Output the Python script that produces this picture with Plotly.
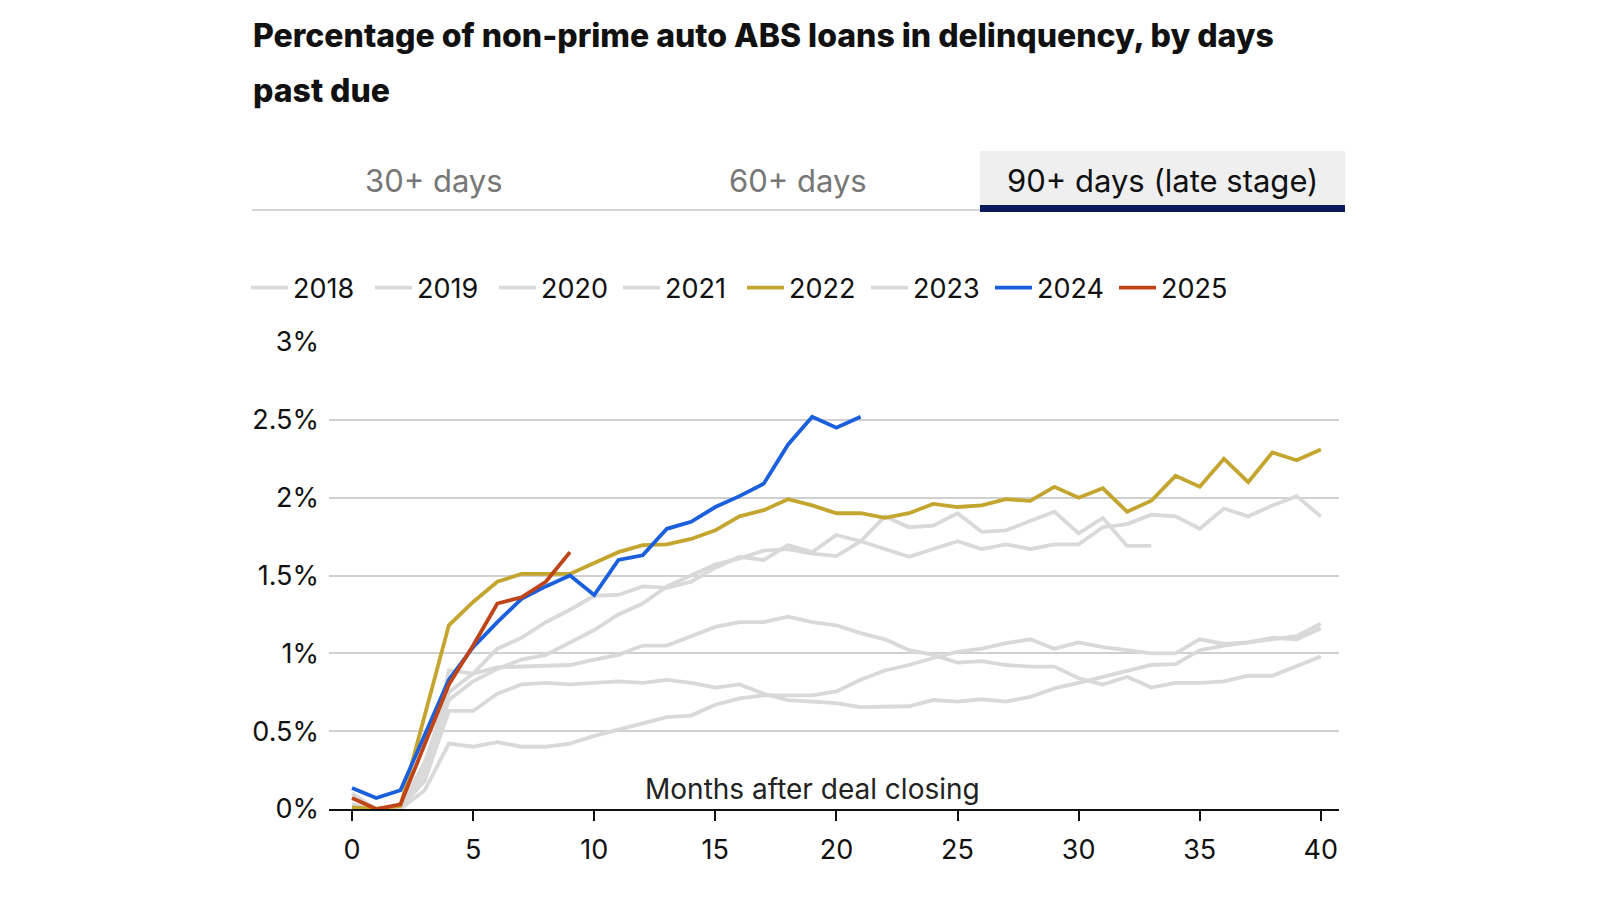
import plotly.graph_objects as go

# ---------------- data ----------------
months = list(range(41))
years = ["2018", "2019", "2020", "2021", "2022", "2023", "2024", "2025"]

y2018 = [0.02, 0.0, 0.01, 0.30, 0.75, 0.87, 1.03, 1.10, 1.20, 1.28,
         1.37, 1.375, 1.43, 1.42, 1.46, 1.55, 1.62, 1.60, 1.695, 1.65,
         1.76, 1.72, 1.67, 1.62, 1.67, 1.72, 1.67, 1.70, 1.67, 1.70,
         1.70, 1.81, 1.83, 1.89, 1.88, 1.80, 1.93, 1.88, 1.95, 2.01, 1.88]
y2019 = [0.10, 0.0, 0.01, 0.20, 0.89, 0.87, 0.91, 0.915, 0.915, 0.925,
         0.96, 0.99, 1.05, 1.05, 1.11, 1.17, 1.20, 1.20, 1.235, 1.20,
         1.18, 1.13, 1.09, 1.02, 0.99, 0.94, 0.95, 0.925, 0.915, 0.915,
         0.84, 0.80, 0.85, 0.78, 0.81, 0.81, 0.82, 0.856, 0.856, 0.915, 0.98]
y2020 = [0.03, 0.0, 0.01, 0.18, 0.63, 0.63, 0.74, 0.80, 0.81, 0.80,
         0.81, 0.82, 0.81, 0.83, 0.81, 0.78, 0.80, 0.74, 0.70, 0.69,
         0.68, 0.655, 0.66, 0.66, 0.70, 0.69, 0.705, 0.69, 0.72, 0.775,
         0.81, 0.85, 0.89, 0.925, 0.93, 1.02, 1.05, 1.07, 1.09, 1.11, 1.19]
y2021 = [0.0, 0.0, 0.0, 0.12, 0.42, 0.40, 0.43, 0.40, 0.40, 0.42,
         0.47, 0.51, 0.55, 0.59, 0.60, 0.67, 0.71, 0.73, 0.73, 0.73,
         0.755, 0.83, 0.89, 0.925, 0.97, 1.01, 1.03, 1.065, 1.09, 1.03,
         1.07, 1.04, 1.02, 1.00, 1.00, 1.09, 1.06, 1.07, 1.10, 1.09, 1.16]
y2022 = [0.01, 0.0, 0.02, 0.60, 1.18, 1.33, 1.46, 1.51, 1.51, 1.51,
         1.58, 1.65, 1.695, 1.70, 1.735, 1.79, 1.88, 1.92, 1.99, 1.95,
         1.90, 1.90, 1.87, 1.90, 1.96, 1.94, 1.95, 1.99, 1.98, 2.07,
         2.00, 2.06, 1.91, 1.98, 2.14, 2.07, 2.25, 2.10, 2.29, 2.24, 2.31]
y2023 = [0.02, 0.0, 0.01, 0.25, 0.70, 0.82, 0.90, 0.96, 0.99, 1.07,
         1.15, 1.25, 1.32, 1.43, 1.50, 1.57, 1.61, 1.66, 1.67, 1.64,
         1.625, 1.72, 1.88, 1.81, 1.82, 1.90, 1.78, 1.79, 1.85, 1.91,
         1.77, 1.87, 1.69, 1.69]
y2024 = [0.135, 0.07, 0.12, 0.47, 0.83, 1.04, 1.20, 1.35, 1.43, 1.50,
         1.375, 1.60, 1.63, 1.80, 1.845, 1.94, 2.01, 2.09, 2.34, 2.52,
         2.45, 2.52]
y2025 = [0.07, 0.0, 0.03, 0.42, 0.80, 1.05, 1.32, 1.36, 1.46, 1.65]

series = {"2018": y2018, "2019": y2019, "2020": y2020, "2021": y2021,
          "2022": y2022, "2023": y2023, "2024": y2024, "2025": y2025}

tabs = ["30+ days", "60+ days", "90+ days (late stage)"]
y_ticks = [0, 0.5, 1, 1.5, 2, 2.5, 3]
y_ticktext = ["0%", "0.5%", "1%", "1.5%", "2%", "2.5%", "3%"]
x_ticks = [0, 5, 10, 15, 20, 25, 30, 35, 40]

# ---------------- styles ----------------
GRAY = "#d9d9d9"
colors = {"2022": "#c4a52f", "2024": "#1a5fdc", "2025": "#bf4417"}
FONT = "Inter"

# plot area in target pixels
L, R, T, B = 329, 1339, 342, 809
W, H = R - L, B - T
OFF = 8  # page body margin compensation


def px(x):
    return (x - L) / W


def py(y):
    return (B - y) / H


fig = go.Figure()

for yr in years:
    if yr in colors:
        continue
    vals = series[yr]
    fig.add_trace(go.Scatter(
        x=months[:len(vals)], y=vals, mode="lines", name=yr,
        line=dict(color=GRAY, width=3.8), legendrank=int(yr),
        hoverinfo="skip"))
for yr in ["2022", "2024", "2025"]:
    vals = series[yr]
    fig.add_trace(go.Scatter(
        x=months[:len(vals)], y=vals, mode="lines", name=yr,
        line=dict(color=colors[yr], width=3.8), legendrank=int(yr),
        hoverinfo="skip"))

shapes = [
    dict(type="line", xref="paper", yref="paper",
         x0=px(252), x1=px(980), y0=py(210), y1=py(210),
         line=dict(color="#d4d4d4", width=2)),
    dict(type="rect", xref="paper", yref="paper",
         x0=px(980), x1=px(1345), y0=py(211), y1=py(151),
         fillcolor="#efefef", line=dict(width=0), layer="below"),
    dict(type="rect", xref="paper", yref="paper",
         x0=px(980), x1=px(1345), y0=py(212), y1=py(205),
         fillcolor="#0b1a5c", line=dict(width=0)),
]

title_font = dict(family=FONT, size=32, color="#111111", weight=800)
tab_font_off = dict(family=FONT, size=31, color="#777777")
tab_font_on = dict(family=FONT, size=31, color="#111111")

annotations = [
    dict(text="Percentage of non-prime auto ABS loans in delinquency, by days",
         xref="paper", yref="paper", x=px(251), y=py(36), xanchor="left", yanchor="middle",
         showarrow=False, font=title_font),
    dict(text="past due",
         xref="paper", yref="paper", x=px(251), y=py(91), xanchor="left", yanchor="middle",
         showarrow=False, font=title_font),
    dict(text=tabs[0], xref="paper", yref="paper", x=px(434), y=py(180),
         xanchor="center", yanchor="middle", showarrow=False, font=tab_font_off),
    dict(text=tabs[1], xref="paper", yref="paper", x=px(798), y=py(180),
         xanchor="center", yanchor="middle", showarrow=False, font=tab_font_off),
    dict(text=tabs[2], xref="paper", yref="paper", x=px(1162), y=py(180),
         xanchor="center", yanchor="middle", showarrow=False, font=tab_font_on),
    dict(text="Months after deal closing", xref="x", yref="paper", x=19.0, y=py(789),
         xanchor="center", yanchor="middle", showarrow=False,
         font=dict(family=FONT, size=28, color="#222222")),
]

fig.update_layout(
    width=1600, height=900,
    margin=dict(l=L - OFF, r=1600 - (R - OFF), t=T - OFF, b=900 - (B - OFF)),
    paper_bgcolor="white", plot_bgcolor="white",
    font=dict(family=FONT, size=27, color="#111111"),
    showlegend=True,
    legend=dict(orientation="h", x=px(246), y=py(288), xanchor="left", yanchor="middle",
                font=dict(family=FONT, size=27, color="#111111"),
                itemwidth=37, entrywidth=72, entrywidthmode="pixels",
                traceorder="normal", bgcolor="rgba(0,0,0,0)"),
    shapes=shapes,
    annotations=annotations,
    xaxis=dict(range=[-0.95, 40.75], tickvals=x_ticks, showgrid=False, zeroline=False,
               showline=True, linecolor="#111111", linewidth=2,
               ticks="outside", ticklen=10, tickwidth=2, tickcolor="#111111",
               ticklabelstandoff=6,
               tickfont=dict(family=FONT, size=27, color="#111111"), fixedrange=True),
    yaxis=dict(range=[0, 3.0], tickvals=y_ticks, ticktext=y_ticktext,
               showgrid=True, gridcolor="#d0d0d0", gridwidth=2, zeroline=False,
               showline=False, ticks="", ticklabelstandoff=9,
               tickfont=dict(family=FONT, size=27, color="#111111"), fixedrange=True),
)

fig.write_html("out.html")
